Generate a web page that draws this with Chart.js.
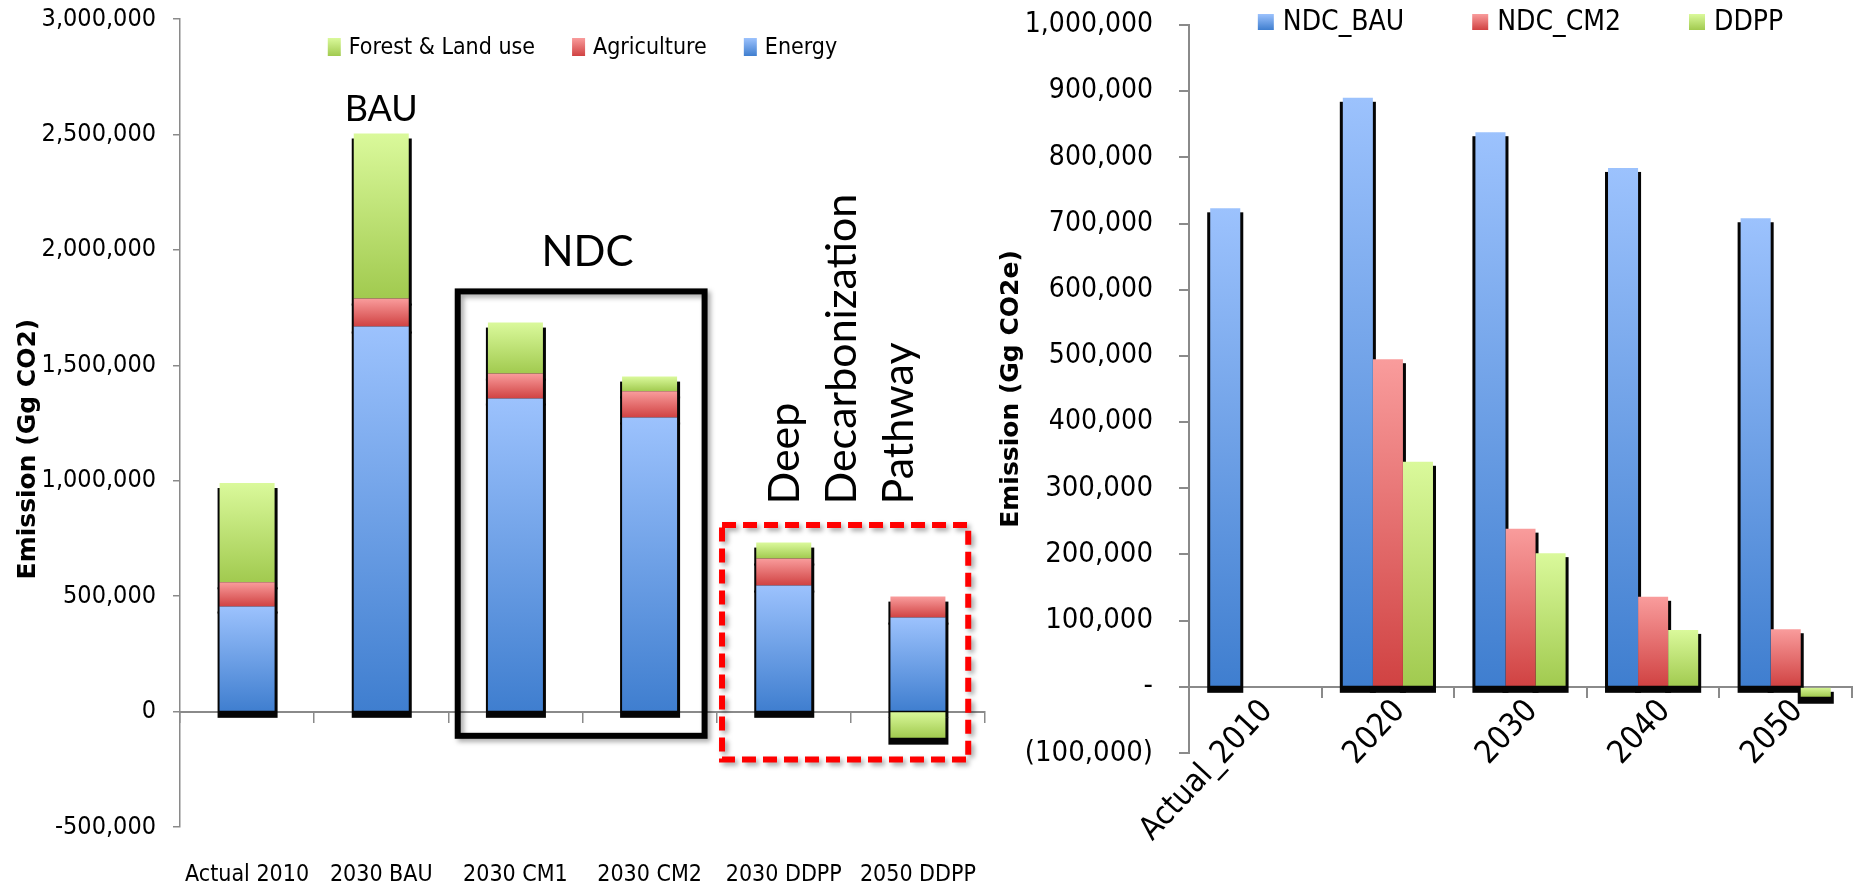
<!DOCTYPE html>
<html>
<head>
<meta charset="utf-8">
<title>Emission scenarios</title>
<script src="https://cdn.jsdelivr.net/npm/chart.js"></script>
<style>
  html, body { margin: 0; padding: 0; background: #fff; }
  body { width: 1861px; height: 890px; position: relative; overflow: hidden; }
  canvas { position: absolute; top: 0; }
  #sectorChart { left: 0; }
  #scenarioChart { left: 980px; }
</style>
</head>
<body>
<canvas id="sectorChart" width="1000" height="890"></canvas>
<canvas id="scenarioChart" width="881" height="890"></canvas>
<script>
// left chart: emission by sector (Gg CO2)
const sectorLabels = ['Actual 2010', '2030 BAU', '2030 CM1', '2030 CM2', '2030 DDPP', '2050 DDPP'];
const energy = [455000, 1668000, 1356000, 1274000, 546000, 407000];
const agriculture = [105000, 121000, 108000, 113000, 117000, 91000];
const forestLand = [430000, 715000, 221000, 64000, 69000, -113000];

// right chart: scenarios (Gg CO2e)
const scenarioLabels = ['Actual_2010', '2020', '2030', '2040', '2050'];
const ndcBau = [723000, 890000, 838000, 784000, 708000];
const ndcCm2 = [null, 495000, 239000, 136000, 87000];
const ddpp = [null, 340000, 202000, 86000, -15000];

const NARROW = '"Liberation Sans Narrow", "DejaVu Sans Condensed", Lato, sans-serif';
const TAHOMA = '"DejaVu Sans Condensed", "DejaVu Sans", sans-serif';
const GOTHIC = 'Lato, sans-serif';
const AXIS_GREY = '#8a8a8a';

const BLUE = ['#9cc2fd', '#3f7ecf'];
const RED = ['#f99c9c', '#d04242'];
const GREEN = ['#daf99b', '#a1ca4f'];

const fmt = v => Math.abs(v).toLocaleString('en-US');

// start / end value of one bar segment (stack aware)
function segmentRange(chart, di, i) {
    const sets = chart.data.datasets;
    const v = sets[di].data[i] ?? 0;
    let from = 0;
    if (chart.options.scales.y.stacked) {
        for (let k = 0; k < di; k++) {
            const w = sets[k].data[i] ?? 0;
            if ((w < 0) === (v < 0)) from += w;
        }
    }
    return [from, from + v];
}

function barFill(colors) {
    return (c) => {
        if (c.type !== 'data') return colors[1];
        const yScale = c.chart.scales.y;
        if (!yScale) return colors[1];
        const [from, to] = segmentRange(c.chart, c.datasetIndex, c.dataIndex);
        const top = yScale.getPixelForValue(Math.max(from, to));
        const bottom = yScale.getPixelForValue(Math.min(from, to));
        if (!isFinite(top) || !isFinite(bottom) || top === bottom) return colors[1];
        const g = c.chart.ctx.createLinearGradient(0, top, 0, bottom);
        g.addColorStop(0, colors[0]);
        g.addColorStop(1, colors[1]);
        return g;
    };
}

// black "3d" shadow behind every bar
const barShadow = {
    id: 'barShadow',
    beforeDatasetsDraw(chart, args, opts) {
        const ctx = chart.ctx;
        ctx.save();
        ctx.fillStyle = '#050505';
        chart.data.datasets.forEach((ds, di) => {
            const meta = chart.getDatasetMeta(di);
            meta.data.forEach((bar, i) => {
                if (ds.data[i] == null) return;
                const {x, y, base, width} = bar.getProps(['x', 'y', 'base', 'width'], true);
                const top = Math.min(y, base);
                const bottom = Math.max(y, base);
                ctx.fillRect(x - width / 2 - opts.left, top + opts.drop,
                    width + opts.left + opts.right, bottom - top - opts.drop + opts.under);
            });
        });
        ctx.restore();
    }
};

// legend drawn over the plot area like in the original
const boxLegend = {
    id: 'boxLegend',
    afterDraw(chart, args, opts) {
        const ctx = chart.ctx;
        const area = chart.chartArea;
        let items = chart.data.datasets.map(ds => ({ text: ds.label, colors: ds.shade }));
        if (opts.reverse) items = items.reverse();
        ctx.save();
        ctx.font = opts.font;
        ctx.textBaseline = 'middle';
        const widths = items.map(it => ctx.measureText(it.text).width);
        const total = widths.reduce((a, w) => a + opts.boxWidth + opts.gap + w, 0) + opts.spacing * (items.length - 1);
        let xPos = (area.left + area.right) / 2 - total / 2;
        const yMid = area.top + opts.offsetY;
        items.forEach((it, k) => {
            const g = ctx.createLinearGradient(0, yMid - opts.boxHeight / 2, 0, yMid + opts.boxHeight / 2);
            g.addColorStop(0, it.colors[0]);
            g.addColorStop(1, it.colors[1]);
            ctx.fillStyle = g;
            ctx.fillRect(xPos, yMid - opts.boxHeight / 2, opts.boxWidth, opts.boxHeight);
            ctx.fillStyle = '#000';
            ctx.fillText(it.text, xPos + opts.boxWidth + opts.gap, yMid + 1);
            xPos += opts.boxWidth + opts.gap + widths[k] + opts.spacing;
        });
        ctx.restore();
    }
};

// BAU / NDC / DDPP call-outs on the left chart
const scenarioMarks = {
    id: 'scenarioMarks',
    afterDraw(chart) {
        const {ctx, scales: {x, y}} = chart;
        const step = x.getPixelForValue(1) - x.getPixelForValue(0);
        ctx.save();
        ctx.fillStyle = '#000';
        ctx.textAlign = 'center';
        ctx.textBaseline = 'middle';
        ctx.font = '36px ' + GOTHIC;
        ctx.fillText('BAU', x.getPixelForValue(1), y.getPixelForValue(2610000));
        ctx.font = '42px ' + GOTHIC;
        ctx.fillText('NDC', (x.getPixelForValue(2) + x.getPixelForValue(3)) / 2 + 5, y.getPixelForValue(1990000));

        // Deep Decarbonization Pathway, written upwards
        ctx.font = '43px ' + GOTHIC;
        ctx.textAlign = 'left';
        ctx.textBaseline = 'alphabetic';
        ['Deep', 'Decarbonization', 'Pathway'].forEach((line, k) => {
            ctx.save();
            ctx.translate(x.getPixelForValue(4) + 15 + k * 57, y.getPixelForValue(897000));
            ctx.rotate(-Math.PI / 2);
            ctx.fillText(line, 0, 0);
            ctx.restore();
        });

        ctx.shadowColor = 'rgba(0,0,0,0.35)';
        ctx.shadowBlur = 5;
        ctx.shadowOffsetX = 3;
        ctx.shadowOffsetY = 3;
        ctx.lineWidth = 6;

        // NDC frame
        const nl = x.getPixelForValue(2) - 0.43 * step;
        const nr = x.getPixelForValue(3) + 0.41 * step;
        const nt = y.getPixelForValue(1820000);
        const nb = y.getPixelForValue(-105000);
        ctx.strokeStyle = '#000';
        ctx.strokeRect(nl, nt, nr - nl, nb - nt);

        // DDPP frame
        const dl = x.getPixelForValue(4) - 0.46 * step;
        const dr = x.getPixelForValue(5) + 0.375 * step;
        const dt = y.getPixelForValue(808000);
        const db = y.getPixelForValue(-208000);
        ctx.strokeStyle = '#ff0000';
        ctx.setLineDash([14, 7]);
        ctx.strokeRect(dl, dt, dr - dl, db - dt);
        ctx.restore();
    }
};

// keep label overhang from shrinking the plot area
const noSidePadding = s => { s.paddingLeft = 0; s.paddingRight = 0; };

new Chart(document.getElementById('sectorChart'), {
    type: 'bar',
    data: {
        labels: sectorLabels,
        datasets: [
            { label: 'Energy', data: energy, shade: BLUE, backgroundColor: barFill(BLUE) },
            { label: 'Agriculture', data: agriculture, shade: RED, backgroundColor: barFill(RED) },
            { label: 'Forest & Land use', data: forestLand, shade: GREEN, backgroundColor: barFill(GREEN) }
        ]
    },
    options: {
        responsive: false,
        animation: false,
        layout: { padding: { left: 0, right: 15, top: 19, bottom: 0 } },
        datasets: { bar: { categoryPercentage: 1, barPercentage: 0.41, borderWidth: 0 } },
        scales: {
            x: {
                type: 'category',
                stacked: true,
                position: { y: 0 },
                offset: true,
                z: 1,
                grid: { display: true, drawOnChartArea: false, drawTicks: true, tickLength: 10, color: AXIS_GREY, lineWidth: 1.5, offset: true },
                border: { color: AXIS_GREY, width: 2 },
                ticks: { display: false },
                afterFit: noSidePadding
            },
            x2: {
                type: 'category',
                position: 'bottom',
                offset: true,
                grid: { display: false, drawTicks: false },
                border: { display: false },
                ticks: { color: '#000', font: { family: NARROW, size: 23 }, padding: 34, maxRotation: 0, autoSkip: false },
                afterFit: s => { s.height = 63; noSidePadding(s); }
            },
            y: {
                stacked: true,
                min: -500000,
                max: 3000000,
                grid: { display: true, drawOnChartArea: false, drawTicks: true, tickLength: 7, color: AXIS_GREY, lineWidth: 1.5 },
                border: { color: AXIS_GREY, width: 1.5 },
                ticks: {
                    stepSize: 500000,
                    color: '#000',
                    padding: 17,
                    font: { family: NARROW, size: 25 },
                    callback: v => (v < 0 ? '-' : '') + fmt(v)
                },
                title: {
                    display: true,
                    text: 'Emission (Gg CO2)      ',
                    color: '#000',
                    font: { family: '"DejaVu Sans", sans-serif', size: 25, weight: 'bold' },
                    padding: { top: 13, bottom: 0 }
                },
                afterFit: s => { s.width = 180; s.paddingTop = 12; s.paddingBottom = 12; }
            }
        },
        plugins: {
            legend: { display: false },
            tooltip: { enabled: false },
            barShadow: { left: 2, right: 3, drop: 5, under: 7 },
            boxLegend: { reverse: true, font: '23px ' + NARROW, boxWidth: 13, boxHeight: 18, gap: 8, spacing: 37, offsetY: 28 }
        }
    },
    plugins: [barShadow, boxLegend, scenarioMarks]
});

new Chart(document.getElementById('scenarioChart'), {
    type: 'bar',
    data: {
        labels: scenarioLabels,
        datasets: [
            { label: 'NDC_BAU', data: ndcBau, shade: BLUE, backgroundColor: barFill(BLUE) },
            { label: 'NDC_CM2', data: ndcCm2, shade: RED, backgroundColor: barFill(RED) },
            { label: 'DDPP', data: ddpp, shade: GREEN, backgroundColor: barFill(GREEN) }
        ]
    },
    options: {
        responsive: false,
        animation: false,
        layout: { padding: { left: 0, right: 9, top: 25, bottom: 137 } },
        datasets: { bar: { categoryPercentage: 0.68, barPercentage: 1, borderWidth: 0 } },
        scales: {
            x: {
                type: 'category',
                position: { y: 0 },
                offset: true,
                z: 1,
                grid: { display: true, drawOnChartArea: false, drawTicks: true, tickLength: 10, color: AXIS_GREY, lineWidth: 2, offset: true },
                border: { color: AXIS_GREY, width: 2 },
                ticks: {
                    color: '#000',
                    font: { family: NARROW, size: 32 },
                    minRotation: 47,
                    maxRotation: 47,
                    padding: -4,
                    labelOffset: 12
                },
                afterFit: noSidePadding
            },
            y: {
                min: -100000,
                max: 1000000,
                grid: { display: true, drawOnChartArea: false, drawTicks: true, tickLength: 10, color: AXIS_GREY, lineWidth: 2 },
                border: { color: AXIS_GREY, width: 2 },
                ticks: {
                    stepSize: 100000,
                    color: '#000',
                    padding: 26,
                    font: c => (c.tick && c.tick.value >= 400000)
                        ? { family: TAHOMA, size: 28 }
                        : { family: NARROW, size: 29 },
                    callback: v => v === 0 ? '-' : (v < 0 ? '(' + fmt(v) + ')' : fmt(v))
                },
                title: {
                    display: true,
                    text: 'Emission (Gg CO2e)',
                    color: '#000',
                    font: { family: '"DejaVu Sans", sans-serif', size: 25, weight: 'bold' },
                    padding: { top: 16, bottom: 0 }
                },
                afterFit: s => { s.width = 209; s.paddingTop = 12; s.paddingBottom = 12; }
            }
        },
        plugins: {
            legend: { display: false },
            tooltip: { enabled: false },
            barShadow: { left: 3, right: 3, drop: 4, under: 7 },
            boxLegend: { font: '28px ' + TAHOMA, boxWidth: 16, boxHeight: 16, gap: 9, spacing: 68, offsetY: -3 }
        }
    },
    plugins: [barShadow, boxLegend]
});
</script>
</body>
</html>
